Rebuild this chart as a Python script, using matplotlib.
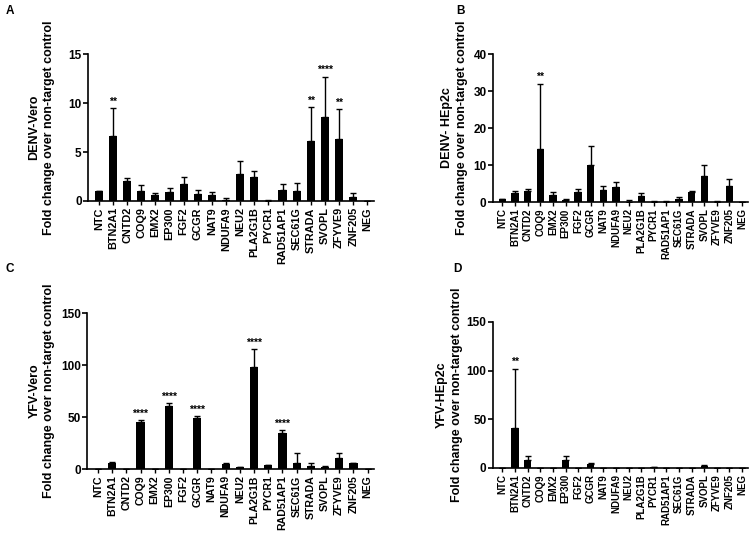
import matplotlib.pyplot as plt

plt.rcParams['font.family'] = ['Liberation Sans', 'DejaVu Sans']
plt.rcParams['font.weight'] = 'bold'

genes = ['NTC', 'BTN2A1', 'CNTD2', 'COQ9', 'EMX2', 'EP300', 'FGF2', 'GCGR', 'NAT9',
         'NDUFA9', 'NEU2', 'PLA2G1B', 'PYCR1', 'RAD51AP1', 'SEC61G', 'STRADA',
         'SVOPL', 'ZFYVE9', 'ZNF205', 'NEG']

# DENV - Vero
denv_vero = [1.0, 6.6, 2.0, 1.0, 0.6, 0.95, 1.75, 0.7, 0.6, 0.1, 2.8, 2.4, 0.05, 1.1,
             1.0, 6.1, 8.6, 6.3, 0.4, 0]
denv_vero_err = [0, 2.9, 0.3, 0.6, 0.2, 0.35, 0.65, 0.4, 0.3, 0.2, 1.3, 0.7, 0.1, 0.6,
                 0.8, 3.5, 4.1, 3.1, 0.4, 0]
denv_vero_sig = {1: '**', 15: '**', 16: '****', 17: '**'}

# DENV - HEp2c
denv_hep = [0.8, 2.5, 3.0, 14.4, 1.8, 0.6, 2.8, 9.9, 3.2, 4.0, 0.1, 1.5, 0.1, 0.1,
            0.7, 2.6, 7.0, 0.05, 4.2, 0]
denv_hep_err = [0, 0.5, 0.4, 17.6, 0.9, 0.3, 0.6, 5.2, 1.0, 1.4, 0.4, 0.9, 0.3, 0.2,
                0.7, 0.5, 2.9, 0.15, 2.0, 0]
denv_hep_sig = {3: '**'}

# YFV - Vero
yfv_vero = [0, 6, 0, 45, 0.3, 61, 0.3, 49, 0.2, 4.5, 1.5, 98, 3.5, 35, 6, 3, 2, 11,
            5.5, 0]
yfv_vero_err = [0, 1, 0, 2, 0, 2, 0, 2, 0, 1, 0.7, 17, 0.7, 2.5, 9, 3, 1, 4, 0.7, 0]
yfv_vero_sig = {3: '****', 5: '****', 7: '****', 11: '****', 13: '****'}

# YFV - HEp2c
yfv_hep = [0, 41, 8, 0.2, 0, 8.5, 0.3, 4, 0.1, 0, 0.4, 0.3, 0.6, 0.3, 0.3, 0.4, 2.5,
           0.2, 0.3, 0]
yfv_hep_err = [0, 61, 4, 0, 0, 3.5, 0, 1, 0, 0, 0, 0, 0, 0, 0, 0, 1, 0, 0, 0]
yfv_hep_sig = {1: '**'}

# letter, name, values, errors, stars, ymax, yticks, axes rect, xtick size, ylabel x
panels = [
    ('A', 'DENV-Vero', denv_vero, denv_vero_err, denv_vero_sig, 15, [0, 5, 10, 15],
     [0.1173, 0.6257, 0.381, 0.2737], 7.8, -0.115),
    ('B', 'DENV- HEp2c', denv_hep, denv_hep_err, denv_hep_sig, 40, [0, 10, 20, 30, 40],
     [0.657, 0.6238, 0.34, 0.2756], 7.0, -0.098),
    ('C', 'YFV-Vero', yfv_vero, yfv_vero_err, yfv_vero_sig, 150, [0, 50, 100, 150],
     [0.116, 0.1266, 0.3827, 0.2905], 7.6, -0.111),
    ('D', 'YFV-HEp2c', yfv_hep, yfv_hep_err, yfv_hep_sig, 150, [0, 50, 100, 150],
     [0.657, 0.1285, 0.34, 0.2719], 7.0, -0.118),
]

fig = plt.figure(figsize=(7.5, 5.37), dpi=100)
letter_pos = {'A': (0.007, 0.99), 'B': (0.608, 0.99), 'C': (0.007, 0.51), 'D': (0.604, 0.51)}

for letter, name, vals, errs, sig, ymax, yticks, rect, xfs, ylx in panels:
    ax = fig.add_axes(rect)
    x = list(range(len(genes)))
    ax.bar(x, vals, width=0.58, color='black', zorder=2)
    ax.errorbar(x, vals, yerr=[[0] * len(errs), errs], fmt='none', ecolor='black',
                elinewidth=1, capsize=2.5, capthick=1, zorder=3)
    for i, s in sig.items():
        ax.text(i, vals[i] + errs[i] + ymax * 0.01, s, ha='center', va='bottom',
                fontsize=7.5, fontweight='bold')
    ax.set_xlim(-0.77, 19.45)
    ax.set_ylim(0, ymax)
    ax.set_yticks(yticks)
    ax.set_xticks(x)
    ax.set_xticklabels(genes, rotation=90, fontsize=xfs, fontweight='bold')
    ax.tick_params(axis='y', labelsize=8.5, width=1.2, length=3.5, pad=1)
    ax.tick_params(axis='x', width=1, length=3, pad=1.5)
    for t in ax.get_yticklabels():
        t.set_fontweight('bold')
    ax.spines['top'].set_visible(False)
    ax.spines['right'].set_visible(False)
    ax.spines['left'].set_linewidth(1.2)
    ax.spines['bottom'].set_linewidth(1.2)
    ax.set_ylabel(name + '\nFold change over non-target control', fontsize=9,
                  fontweight='bold', linespacing=1.3)
    ax.yaxis.set_label_coords(ylx, 0.5)
    fig.text(letter_pos[letter][0], letter_pos[letter][1], letter, fontsize=8.5,
             fontweight='bold', va='top')

fig.savefig('out.png', dpi=100)
